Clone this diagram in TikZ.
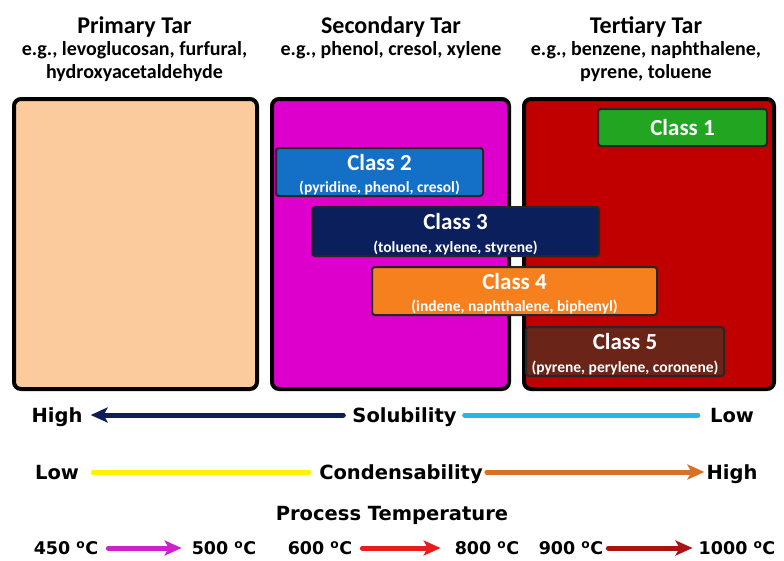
\documentclass[tikz,border=0pt]{standalone}
\usepackage{fontspec}
\setmainfont{Carlito}
\newfontfamily\comicfont{DejaVu Sans}
\usetikzlibrary{arrows.meta}
\newcommand\clsubfont{\bfseries\fontsize{15.5}{22}\selectfont}
\newcommand\clstrut{\rule{0pt}{21pt}}
\definecolor{peach}{HTML}{FCCB9D}
\definecolor{magentabox}{HTML}{DD00CC}
\definecolor{redbox}{HTML}{C00000}
\definecolor{cgreen}{HTML}{22A622}
\definecolor{cblue}{HTML}{1470C6}
\definecolor{cnavy}{HTML}{0B1F5C}
\definecolor{corange}{HTML}{F7801E}
\definecolor{cbrown}{HTML}{6B2418}
\definecolor{navyline}{HTML}{0E1F55}
\definecolor{skyline}{HTML}{29B5EA}
\definecolor{yellowline}{HTML}{FFF200}
\definecolor{orangeline}{HTML}{D87025}
\definecolor{magline}{HTML}{CC22CC}
\definecolor{redline}{HTML}{E81C1C}
\definecolor{darkredline}{HTML}{A81414}
\begin{document}
\begin{tikzpicture}[x=1pt,y=-1pt,
  bigbox/.style={draw=black, line width=4pt, rounded corners=7pt, inner sep=0pt},
  classbox/.style={draw=black!85, line width=2pt, rounded corners=3pt, inner sep=0pt,
    text=white, align=center, font=\bfseries\fontsize{23}{22.5}\selectfont},
  ttl/.style={font=\bfseries\fontsize{24}{28}\selectfont, anchor=base, inner sep=0pt},
  subt/.style={font=\bfseries\fontsize{20}{24}\selectfont, anchor=base, inner sep=0pt},
  btxt/.style={font=\comicfont\bfseries\fontsize{19.5}{24}\selectfont, inner sep=0pt, text height=14.2pt, text depth=0pt},
  ttxt/.style={font=\comicfont\bfseries\fontsize{17.5}{21}\selectfont, inner sep=0pt, text height=12.8pt, text depth=0pt},
  bar/.style={line width=5pt, line cap=round},
  tip/.style={-{Stealth[length=17pt,width=15pt,inset=4pt]}},
]
\useasboundingbox (0,0) rectangle (784,560);
\fill[white] (0,0) rectangle (784,560);

% headings
\node[ttl] (h1) at (134.5,33) {Primary Tar};
\node[subt] (h1a) at (134.5,55) {e.g., levoglucosan, furfural,};
\node[subt] (h1b) at (134.5,78) {hydroxyacetaldehyde};
\node[ttl] (h2) at (391,33) {Secondary Tar};
\node[subt] (h2a) at (391,55) {e.g., phenol, cresol, xylene};
\node[ttl] (h3) at (646,33) {Tertiary Tar};
\node[subt] (h3a) at (646,55) {e.g., benzene, naphthalene,};
\node[subt] (h3b) at (646,78) {pyrene, toluene};

% big boxes
\node[bigbox, fill=peach, minimum width=243pt, minimum height=290pt] (prim) at (135.5,244) {};
\node[bigbox, fill=magentabox, minimum width=237pt, minimum height=290pt] (sec) at (390.5,244) {};
\node[bigbox, fill=redbox, minimum width=250pt, minimum height=290pt] (ter) at (649,244) {};

% class boxes
\node[classbox, fill=cgreen, minimum width=169pt, minimum height=37pt] (c1) at (682.5,127.5) {Class 1};
\node[classbox, fill=cblue, minimum width=207pt, minimum height=48pt] (c2) at (379.5,172)
  {\clstrut Class 2\\{\clsubfont (pyridine, phenol, cresol)}};
\node[classbox, fill=cnavy, minimum width=287pt, minimum height=49pt] (c3) at (455.5,231.5)
  {\clstrut Class 3\\{\clsubfont (toluene, xylene, styrene)}};
\node[classbox, fill=corange, minimum width=285pt, minimum height=48pt] (c4) at (514.5,291)
  {\clstrut Class 4\\{\clsubfont (indene, naphthalene, biphenyl)}};
\node[classbox, fill=cbrown, minimum width=198pt, minimum height=49pt] (c5) at (625,351.5)
  {\clstrut Class 5\\{\clsubfont (pyrene, perylene, coronene)}};

% solubility row
\node[btxt] (hi1) at (57,415) {High};
\node[btxt] (sol) at (404.5,415) {Solubility};
\node[btxt] (lo1) at (732,415) {Low};
\draw[bar, navyline, tip] ([xshift=-9pt]sol.west) -- ([xshift=8pt]hi1.east);
\draw[bar, skyline] ([xshift=8pt]sol.east) -- ([xshift=-12pt]lo1.west);

% condensability row
\node[btxt] (lo2) at (57,472) {Low};
\node[btxt] (cond) at (401,472) {Condensability};
\node[btxt] (hi2) at (732,472) {High};
\draw[bar, yellowline] ([xshift=14pt]lo2.east) -- ([xshift=-10pt]cond.west);
\draw[bar, orangeline, tip] ([xshift=4pt]cond.east) -- ([xshift=-2pt]hi2.west);

% temperature
\node[btxt] (pt) at (392,513) {Process Temperature};
\node[ttxt] (t450) at (66,548) {450 \textsuperscript{o}C};
\node[ttxt] (t500) at (224,548) {500 \textsuperscript{o}C};
\node[ttxt] (t600) at (320,548) {600 \textsuperscript{o}C};
\node[ttxt] (t800) at (487,548) {800 \textsuperscript{o}C};
\node[ttxt] (t900) at (571,548) {900 \textsuperscript{o}C};
\node[ttxt] (t1000) at (737,548) {1000 \textsuperscript{o}C};
\draw[bar, magline, tip] ([xshift=10pt]t450.east) -- ([xshift=-10pt]t500.west);
\draw[bar, redline, tip] ([xshift=10pt]t600.east) -- ([xshift=-14pt]t800.west);
\draw[bar, darkredline, tip] ([xshift=5pt]t900.east) -- ([xshift=-6pt]t1000.west);
\end{tikzpicture}
\end{document}
